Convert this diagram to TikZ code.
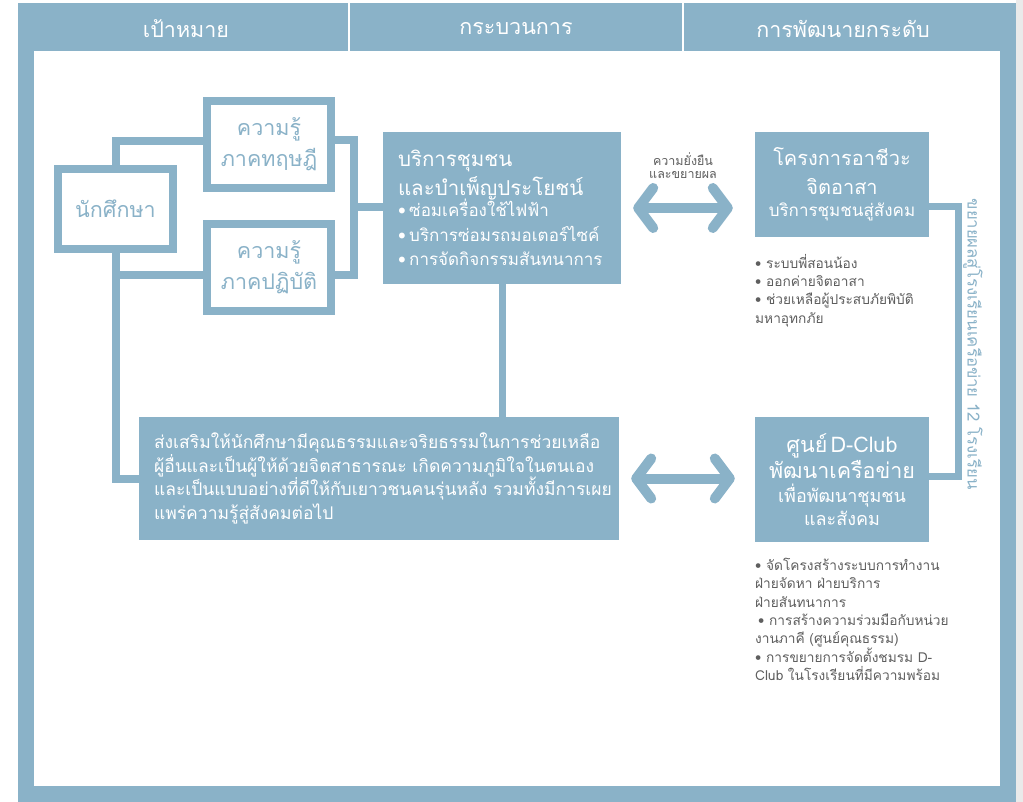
\documentclass[tikz,border=0pt]{standalone}
\usepackage{fontspec}
\setmainfont{Loma}[Script=Thai]
\usetikzlibrary{arrows.meta}
\definecolor{bl}{HTML}{8AB2C8}
\definecolor{tg}{HTML}{5E5E5E}
\definecolor{bgg}{HTML}{EAEAEA}
\newcommand{\fs}[2]{\fontsize{#1}{#2}\selectfont}
\begin{document}
\begin{tikzpicture}[x=1pt,y=-1pt,
  conn/.style={draw=bl,line width=8pt},
  obox/.style={draw=bl,line width=8pt,fill=white,inner sep=0pt,text=bl,align=center,font=\fs{21.5}{31}},
  fbox/.style={fill=bl,text=white},
  dbl/.style={draw=bl,line width=10pt,{Straight Barb[length=15pt,width=40pt,round]}-{Straight Barb[length=15pt,width=40pt,round]}},
  hdr/.style={text=white,font=\fs{21.5}{24}},
  glist/.style={text=tg,anchor=north west,align=left,inner sep=0pt,font=\fs{13.7}{18.3}},
]
\useasboundingbox (0,0) rectangle (1023,802);
\fill[bgg] (1016,0) rectangle (1023,802);
\fill[bl] (18,3) rectangle (1016,802);
\fill[white] (34,51) rectangle (1000,786);
\draw[white,line width=2.5pt] (349,3) -- (349,51) (683,3) -- (683,51);
\node[hdr] (h1) at (186,28.5) {เป้าหมาย};
\node[hdr] (h2) at (516,28.5) {กระบวนการ};
\node[hdr] (h3) at (843,28.5) {การพัฒนายกระดับ};

% left column
\node[obox,minimum width=115pt,minimum height=80pt] (stu) at (115.5,209) {นักศึกษา};
\node[obox,minimum width=124pt,minimum height=87pt] (th) at (269,144.5) {ความรู้\\ภาคทฤษฎี};
\node[obox,minimum width=124pt,minimum height=87pt] (pr) at (269,267.5) {ความรู้\\ภาคปฏิบัติ};

% middle
\node[fbox,inner xsep=15pt,inner ysep=0pt,minimum height=152pt,text width=208pt,align=left] (svc) at (502,208)
  {\fs{20.5}{29}บริการชุมชน\\และบำเพ็ญประโยชน์\\[-3pt]
   \fs{17}{24.5}•~ซ่อมเครื่องใช้ไฟฟ้า\\•~บริการซ่อมรถมอเตอร์ไซค์\\•~การจัดกิจกรรมสันทนาการ\par};
\node[fbox,inner xsep=15pt,inner ysep=0pt,minimum height=123pt,text width=450pt,align=left,font=\fs{17.5}{23.5}] (big) at (379,478.5)
  {ส่งเสริมให้นักศึกษามีคุณธรรมและจริยธรรมในการช่วยเหลือ\\
   ผู้อื่นและเป็นผู้ให้ด้วยจิตสาธารณะ~เกิดความภูมิใจในตนเอง\\
   และเป็นแบบอย่างที่ดีให้กับเยาวชนคนรุ่นหลัง~รวมทั้งมีการเผย\\
   แพร่ความรู้สู่สังคมต่อไป\par};

% right column
\node[fbox,inner xsep=2pt,inner ysep=0pt,text width=170pt,minimum height=105pt,align=center] (proj) at (842,184.5)
  {\fs{20}{29}โครงการอาชีวะ\\จิตอาสา\\[-4pt]\fs{17}{26}บริการชุมชนสู่สังคม\par};
\node[fbox,inner xsep=2pt,inner ysep=0pt,text width=170pt,minimum height=125pt,align=center] (dc) at (842,479.5)
  {\fs{21.5}{26}ศูนย์~D-Club\\พัฒนาเครือข่าย\\[1pt]\fs{18}{23}เพื่อพัฒนาชุมชน\\และสังคม\par};

\node[glist] (l1) at (755,254) {•~ระบบพี่สอนน้อง\\•~ออกค่ายจิตอาสา\\•~ช่วยเหลือผู้ประสบภัยพิบัติ\\มหาอุทกภัย};
\node[glist] (l2) at (755,558) {•~จัดโครงสร้างระบบการทำงาน\\ฝ่ายจัดหา~ฝ่ายบริการ\\ฝ่ายสันทนาการ\\\hspace*{3pt}•~การสร้างความร่วมมือกับหน่วย\\งานภาคี~(ศูนย์คุณธรรม)\\•~การขยายการจัดตั้งชมรม~D-\\Club~ในโรงเรียนที่มีความพร้อม};

\node[rotate=-90,text=bl,inner sep=0pt,font=\fs{16.7}{18}] (vt) at (973,344) {ขยายผลสู่โรงเรียนเครือข่าย 12 โรงเรียน};
\node[text=tg,align=center,inner sep=0pt,font=\fs{12.5}{13}] (lab) at (683,165.5) {ความยั่งยืน\\และขยายผล};

% connectors
\coordinate (j) at (354,207);
\draw[conn] (stu.north) |- ([yshift=3.5pt]th.west);
\draw[conn] (stu.south) |- ([yshift=-7.5pt]pr.west);
\draw[conn] (stu.south) |- (big.west);
\draw[conn,line cap=rect] ([yshift=4pt]th.east) -| (j) |- ([yshift=-7.5pt]pr.east);
\draw[conn] (j) -- (j -| svc.west);
\draw[conn,line width=7pt] (svc.south) -- (svc.south |- big.north);
\draw[conn,line width=7pt] ([yshift=-22.5pt]proj.east) -| ([yshift=3.5pt]dc.east -| 958,0) -- ([yshift=3.5pt]dc.east);
\draw[dbl,shorten <=12pt,shorten >=22pt] (svc.east) -- (svc.east -| proj.west);
\draw[dbl,shorten <=12pt,shorten >=20pt] (big.east) -- (big.east -| dc.west);
\end{tikzpicture}
\end{document}
